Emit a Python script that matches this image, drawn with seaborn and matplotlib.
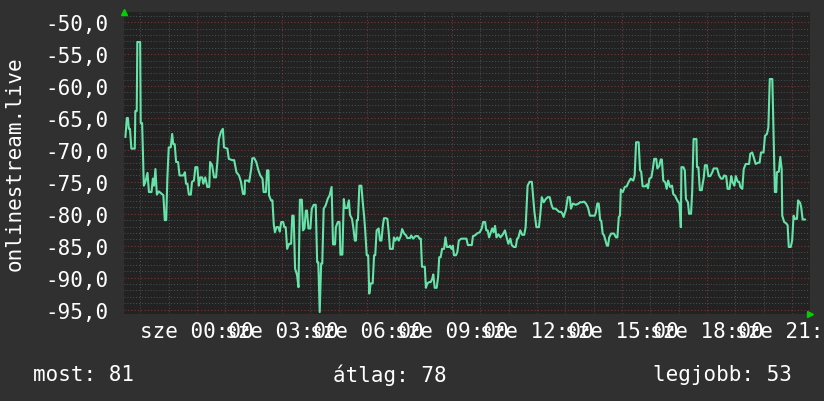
import matplotlib
matplotlib.use("Agg")
import matplotlib.pyplot as plt
import seaborn as sns
import pandas as pd
from matplotlib.ticker import MultipleLocator, FuncFormatter

# ---- data (hours relative to "sze 00:00", signal level) ----
hours = [
    -2.53, -2.48, -2.44, -2.41, -2.37, -2.32, -2.20, -2.18, -2.13, -2.11, -2.01, -1.99, -1.94,
    -1.88, -1.83, -1.75, -1.70, -1.61, -1.56, -1.52, -1.47, -1.42, -1.35, -1.24, -1.19, -1.14,
    -1.09, -1.05, -1.00, -0.93, -0.88, -0.84, -0.79, -0.74, -0.67, -0.62, -0.48, -0.43, -0.39,
    -0.34, -0.29, -0.22, -0.18, -0.11, -0.06, 0.01, 0.06, 0.11, 0.18, 0.22, 0.29, 0.36, 0.43,
    0.46, 0.53, 0.60, 0.67, 0.72, 0.77, 0.84, 0.91, 0.95, 1.07, 1.12, 1.24, 1.31, 1.39, 1.48,
    1.55, 1.62, 1.68, 1.69, 1.79, 1.84, 1.91, 1.95, 2.02, 2.09, 2.16, 2.23, 2.31, 2.35, 2.43,
    2.47, 2.52, 2.54, 2.61, 2.66, 2.71, 2.75, 2.80, 2.87, 2.92, 2.97, 3.04, 3.08, 3.13, 3.18,
    3.25, 3.32, 3.36, 3.41, 3.46, 3.53, 3.58, 3.63, 3.70, 3.74, 3.79, 3.84, 3.88, 3.93, 4.00,
    4.05, 4.12, 4.19, 4.24, 4.28, 4.33, 4.38, 4.42, 4.47, 4.54, 4.61, 4.68, 4.75, 4.80, 4.87,
    4.90, 4.97, 5.03, 5.06, 5.13, 5.18, 5.22, 5.30, 5.36, 5.40, 5.47, 5.52, 5.57, 5.61, 5.64,
    5.68, 5.73, 5.80, 5.85, 5.90, 5.94, 5.99, 6.04, 6.08, 6.13, 6.20, 6.25, 6.29, 6.34, 6.41,
    6.46, 6.51, 6.56, 6.60, 6.67, 6.72, 6.77, 6.81, 6.91, 6.95, 7.00, 7.07, 7.12, 7.19, 7.24,
    7.31, 7.38, 7.42, 7.52, 7.56, 7.63, 7.71, 7.80, 7.85, 7.90, 7.94, 8.04, 8.08, 8.13, 8.20,
    8.25, 8.30, 8.34, 8.39, 8.46, 8.51, 8.55, 8.60, 8.65, 8.72, 8.77, 8.82, 8.89, 8.93, 8.98,
    9.03, 9.07, 9.14, 9.19, 9.24, 9.33, 9.51, 9.56, 9.70, 9.74, 9.81, 9.88, 9.98, 10.05, 10.10,
    10.17, 10.21, 10.26, 10.31, 10.35, 10.42, 10.47, 10.52, 10.57, 10.64, 10.71, 10.80, 10.87,
    10.94, 10.99, 11.06, 11.11, 11.18, 11.25, 11.30, 11.34, 11.41, 11.48, 11.55, 11.60, 11.67,
    11.74, 11.82, 11.86, 11.91, 11.98, 12.07, 12.12, 12.17, 12.24, 12.31, 12.38, 12.45, 12.52,
    12.57, 12.66, 12.71, 12.78, 12.85, 12.90, 12.94, 13.02, 13.09, 13.16, 13.20, 13.27, 13.37,
    13.47, 13.52, 13.59, 13.66, 13.73, 13.80, 13.87, 14.04, 14.08, 14.13, 14.18, 14.23, 14.27,
    14.32, 14.37, 14.42, 14.47, 14.51, 14.55, 14.62, 14.72, 14.79, 14.84, 14.89, 14.93, 14.96,
    15.03, 15.10, 15.17, 15.24, 15.31, 15.40, 15.45, 15.50, 15.59, 15.64, 15.68, 15.73, 15.83,
    15.88, 15.92, 15.97, 16.04, 16.09, 16.14, 16.21, 16.25, 16.32, 16.37, 16.41, 16.46, 16.53,
    16.58, 16.63, 16.70, 16.77, 16.81, 16.88, 16.93, 16.98, 17.03, 17.08, 17.10, 17.17, 17.22,
    17.26, 17.33, 17.37, 17.44, 17.48, 17.53, 17.63, 17.65, 17.70, 17.75, 17.82, 17.84, 17.89,
    17.93, 18.00, 18.05, 18.12, 18.19, 18.24, 18.36, 18.43, 18.50, 18.56, 18.61, 18.68, 18.73,
    18.80, 18.86, 18.90, 18.97, 19.02, 19.09, 19.14, 19.18, 19.25, 19.30, 19.37, 19.49, 19.53,
    19.60, 19.67, 19.72, 19.81, 19.86, 19.91, 20.00, 20.05, 20.12, 20.17, 20.22, 20.31, 20.36,
    20.40, 20.45, 20.47, 20.54, 20.59, 20.64, 20.66, 20.73, 20.80, 20.85, 20.89, 20.96, 21.01,
    21.06, 21.11, 21.18, 21.22, 21.29, 21.33, 21.38, 21.47,
]
levels = [
    -68.0, -65.0, -65.0, -66.7, -66.7, -69.8, -69.8, -63.9, -63.9, -53.1, -53.1, -65.8, -65.8,
    -75.6, -75.1, -73.6, -76.6, -76.6, -74.5, -75.6, -73.0, -77.0, -76.5, -76.9, -77.1, -81.0,
    -81.0, -74.5, -69.6, -69.6, -67.5, -69.1, -69.1, -71.9, -71.9, -74.0, -74.0, -73.5, -75.3,
    -75.3, -77.0, -77.0, -75.0, -74.8, -72.7, -72.7, -75.6, -74.3, -74.3, -75.3, -74.3, -75.8, -75.8,
    -71.9, -72.4, -74.3, -74.3, -71.7, -68.3, -67.2, -66.7, -69.6, -69.8, -71.4, -71.6, -71.6, -73.5, -74.0,
    -75.0, -76.9, -76.9, -74.8, -74.8, -75.0, -73.0, -71.3, -71.3, -71.9, -73.1, -74.0, -74.5, -76.6, -76.6,
    -73.2, -73.2, -77.1, -77.9, -77.9, -81.8, -82.9, -82.1, -82.1, -82.8, -81.3, -81.3, -82.1, -82.1, -85.5,
    -84.7, -84.7, -80.3, -80.3, -88.6, -89.6, -91.5, -77.8, -77.8, -82.6, -82.3, -79.5, -79.5, -82.3, -82.3,
    -79.2, -78.6, -78.6, -87.6, -87.6, -95.4, -87.8, -87.8, -79.2, -78.7, -77.7, -77.1, -75.8, -84.8, -84.8,
    -82.1, -81.3, -81.3, -86.4, -86.4, -77.7, -79.1, -79.1, -77.9, -80.2, -80.8, -82.3, -84.2, -84.2, -81.0,
    -81.0, -75.6, -75.6, -78.2, -80.5, -82.9, -86.5, -86.5, -92.5, -90.9, -90.9, -86.5, -86.5, -82.6, -82.3,
    -84.2, -84.2, -81.8, -80.7, -80.7, -80.8, -83.1, -85.5, -85.5, -83.7, -84.2, -83.7, -84.2, -83.5, -82.4,
    -83.1, -83.4, -83.8, -83.8, -83.4, -83.9, -83.5, -83.5, -83.9, -83.9, -88.3, -88.3, -91.6, -90.9, -90.7,
    -90.7, -90.2, -89.5, -91.6, -91.6, -89.9, -86.8, -86.8, -85.5, -85.5, -83.7, -85.2, -85.2, -85.0, -85.5,
    -85.0, -86.5, -86.5, -86.0, -84.2, -83.9, -83.9, -84.9, -84.9, -83.5, -83.4, -83.1, -82.9, -82.3, -81.3,
    -81.3, -82.6, -82.6, -83.7, -83.2, -82.3, -82.9, -81.9, -83.7, -83.2, -83.7, -83.2, -82.6,
    -83.9, -84.7, -83.9, -84.9, -85.2, -85.2, -83.9, -83.8, -82.6, -83.3, -83.3, -82.1, -75.6,
    -75.0, -75.0, -77.1, -79.7, -82.1, -82.1, -80.0, -77.4, -78.2, -77.7, -77.4, -77.4, -78.7,
    -79.2, -79.2, -79.4, -79.7, -79.7, -80.0, -80.5, -79.4, -77.4, -77.4, -79.2, -78.4, -78.6,
    -78.4, -78.2, -78.2, -78.1, -78.4, -79.0, -80.3, -80.3, -79.8, -78.4, -78.4, -81.0, -81.1,
    -83.1, -83.4, -84.2, -85.0, -85.0, -83.7, -83.1, -83.1, -83.7, -83.7, -80.5, -80.3, -76.2,
    -76.6, -75.8, -75.7, -75.0, -74.5, -74.8, -74.0, -68.8, -68.8, -73.2, -73.4, -75.7, -75.7,
    -75.4, -76.0, -74.5, -74.3, -73.0, -71.4, -71.4, -72.9, -72.5, -71.5, -71.5, -74.8, -75.1,
    -76.1, -74.8, -75.8, -75.6, -76.9, -77.2, -77.7, -78.1, -78.4, -82.1, -72.7, -72.7, -73.2,
    -77.7, -78.2, -80.0, -80.0, -76.6, -68.3, -68.3, -72.7, -72.7, -76.3, -76.3, -75.6, -74.3,
    -72.4, -72.4, -74.1, -74.1, -73.5, -72.9, -72.9, -74.0, -74.5, -74.5, -74.0, -74.1, -76.1,
    -76.1, -74.1, -75.0, -75.6, -74.1, -75.0, -75.0, -75.8, -76.1, -73.0, -72.2, -72.2, -70.6,
    -70.4, -71.4, -72.2, -72.0, -72.0, -70.4, -70.4, -67.8, -67.5, -66.5, -58.9, -58.9, -68.5,
    -76.6, -76.6, -73.5, -73.4, -71.1, -73.0, -80.3, -81.3, -81.5, -81.8, -85.2, -85.2, -84.2,
    -80.3, -80.8, -80.8, -77.9, -78.3, -79.0, -80.9, -80.9,
]
tick_hours = [0, 3, 6, 9, 12, 15, 18, 21]
tick_labels = ["sze 00:00", "sze 03:00", "sze 06:00", "sze 09:00",
               "sze 12:00", "sze 15:00", "sze 18:00", "sze 21:00"]
y_label = "onlinestream.live"
stat_texts = ["most: 81", "átlag: 78", "legjobb: 53"]

df = pd.DataFrame({"hour": hours, "level": levels})

# ---- style ----
sns.set_theme(style="dark")
plt.rcParams["font.family"] = ["DejaVu Sans Mono", "DejaVu Sans"]
plt.rcParams["axes.unicode_minus"] = False

BG = "#303030"
PLOT_BG = "#222222"
LINE = "#66e3a8"
TXT = "#ffffff"

fig = plt.figure(figsize=(8.24, 4.02), dpi=100, facecolor=BG)
ax = fig.add_axes([124 / 824, 1 - 315 / 402, (810 - 124) / 824, (315 - 13) / 402])
ax.set_facecolor(PLOT_BG)

sns.lineplot(data=df, x="hour", y="level", ax=ax, color=LINE, linewidth=1.5,
             estimator=None, sort=False, zorder=5)

ax.set_xlim(-2.58, 21.64)
ax.set_ylim(-95.7, -48.4)

ax.xaxis.set_major_locator(MultipleLocator(3))
ax.xaxis.set_minor_locator(MultipleLocator(1))
ax.yaxis.set_major_locator(MultipleLocator(5))
ax.yaxis.set_minor_locator(MultipleLocator(1))
ax.set_xticks(tick_hours)
ax.set_xticklabels(tick_labels)
ax.yaxis.set_major_formatter(FuncFormatter(lambda v, p: f"{v:.1f}".replace(".", ",")))

ax.grid(False)
ax.grid(which="minor", color="#505050", linestyle=(0, (1, 2)), linewidth=0.7)
ax.grid(which="major", color="#7a3434", linestyle=(0, (1, 2)), linewidth=0.8)
ax.set_axisbelow(True)

ax.tick_params(axis="both", which="both", length=0, colors=TXT, labelsize=15)
ax.tick_params(axis="y", pad=11.5)
ax.tick_params(axis="x", pad=5)
for s in ax.spines.values():
    s.set_visible(False)
ax.set_xlabel("")
ax.set_ylabel("")

# green arrow heads of rrd-style axes
ax.plot([0], [1.0], marker="^", color="#00d000", markersize=5, transform=ax.transAxes,
        clip_on=False, zorder=6)
ax.plot([1.0], [0.0], marker=">", color="#00d000", markersize=5, transform=ax.transAxes,
        clip_on=False, zorder=6)

fig.text(15 / 824, 1 - 164 / 402, y_label, rotation=90, ha="center", va="center",
         color=TXT, fontsize=15)

fig.text(33 / 824, 1 - 375 / 402, stat_texts[0], ha="left", va="center", color=TXT, fontsize=15)
fig.text(333 / 824, 1 - 375 / 402, stat_texts[1], ha="left", va="center", color=TXT, fontsize=15)
fig.text(792 / 824, 1 - 375 / 402, stat_texts[2], ha="right", va="center", color=TXT, fontsize=15)

fig.savefig("out.png", dpi=100, facecolor=BG)
